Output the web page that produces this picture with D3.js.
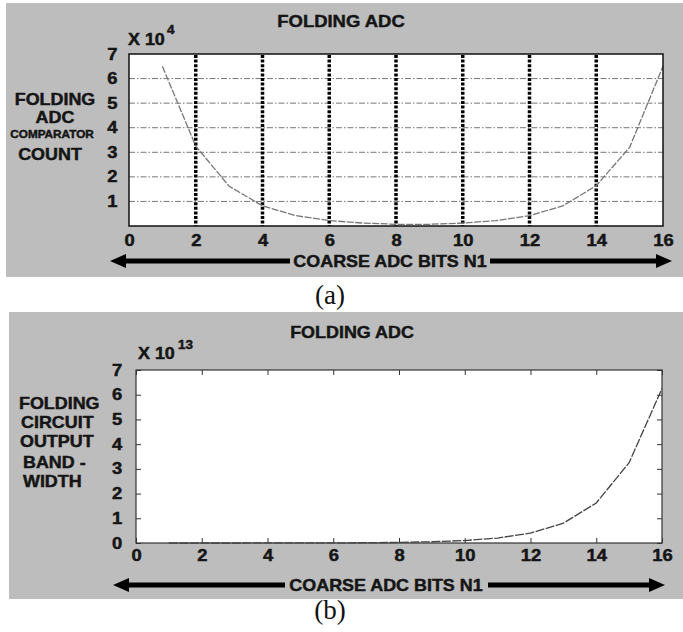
<!DOCTYPE html>
<html>
<head>
<meta charset="utf-8">
<script src="https://cdn.jsdelivr.net/npm/d3@7"></script>
<style>
  body { margin: 0; background: #fff; }
  svg { display: block; }
  .bold { font-family: "Liberation Sans", Arial, sans-serif; font-weight: bold; fill: #151515; stroke: #151515; stroke-width: 0.45; }
</style>
</head>
<body>
<div id="chart"></div>
<script>
// Data
var coarseBits = [1, 2, 3, 4, 5, 6, 7, 8, 9, 10, 11, 12, 13, 14, 15, 16];
// (a) comparator count, x 10^4
var comparatorCount = [6.5, 3.25, 1.62, 0.82, 0.42, 0.22, 0.12, 0.07, 0.07, 0.12, 0.22, 0.42, 0.82, 1.64, 3.2, 6.5];
// (b) folding circuit output bandwidth, x 10^13
var outputBandwidth = [0.0002, 0.0004, 0.0008, 0.0015, 0.003, 0.006, 0.012, 0.025, 0.05, 0.1, 0.2, 0.4, 0.8, 1.62, 3.25, 6.25];
var xTicks = [0, 2, 4, 6, 8, 10, 12, 14, 16];
var yTicksA = [1, 2, 3, 4, 5, 6, 7];
var yTicksB = [0, 1, 2, 3, 4, 5, 6, 7];
var vGridA = [2, 4, 6, 8, 10, 12, 14];
var hGridA = [1, 2, 3, 4, 5, 6];

var svgWidth = 683;
var svgHeight = 632;
var stretch = 1.12; // the scanned text is a bit wider than normal

var svg = d3.select("#chart")
  .append("svg")
  .attr("width", svgWidth)
  .attr("height", svgHeight);

// helper for stretched bold labels
function label(g, x, y, str, size, anchor) {
  return g.append("text")
    .attr("class", "bold")
    .attr("transform", `translate(${x},${y}) scale(${stretch},1)`)
    .attr("text-anchor", anchor || "middle")
    .attr("font-size", size)
    .text(str);
}

// double headed axis arrow, broken where the label sits
function arrow(g, x0, x1, gap0, gap1, y) {
  g.append("line").attr("x1", x0 + 12).attr("x2", gap0).attr("y1", y).attr("y2", y)
    .attr("stroke", "#000").attr("stroke-width", 5);
  g.append("line").attr("x1", gap1).attr("x2", x1 - 12).attr("y1", y).attr("y2", y)
    .attr("stroke", "#000").attr("stroke-width", 5);
  g.append("path").attr("d", `M${x0},${y} L${x0 + 16},${y - 7} L${x0 + 16},${y + 7} Z`).attr("fill", "#000");
  g.append("path").attr("d", `M${x1},${y} L${x1 - 16},${y - 7} L${x1 - 16},${y + 7} Z`).attr("fill", "#000");
}

function styleTicks(ax) {
  ax.selectAll("text").attr("class", "bold").attr("font-size", 16)
    .attr("transform", `scale(1.15,1)`);
}

// ---------------- panel (a) ----------------
var gA = svg.append("g");
gA.append("rect").attr("x", 6).attr("y", 3).attr("width", 677).attr("height", 274).attr("fill", "#bdbdbd");

var xA = d3.scaleLinear().domain([0, 16]).range([129, 663]);
var yA = d3.scaleLinear().domain([0, 7]).range([226, 54]);

gA.append("rect")
  .attr("x", xA(0)).attr("y", yA(7))
  .attr("width", xA(16) - xA(0)).attr("height", yA(0) - yA(7))
  .attr("fill", "#fff");

// horizontal dash-dot grid
gA.selectAll(".hgrid").data(hGridA).enter().append("line")
  .attr("x1", xA(0)).attr("x2", xA(16))
  .attr("y1", d => yA(d)).attr("y2", d => yA(d))
  .attr("stroke", "#777").attr("stroke-width", 1)
  .attr("stroke-dasharray", "6,2,1.5,2");

// thick dotted vertical grid
gA.selectAll(".vgrid").data(vGridA).enter().append("line")
  .attr("x1", d => xA(d)).attr("x2", d => xA(d))
  .attr("y1", yA(7) + 1).attr("y2", yA(0))
  .attr("stroke", "#000").attr("stroke-width", 3.5)
  .attr("stroke-dasharray", "3,1.6");

// curve
var lineA = d3.line().x((d, i) => xA(coarseBits[i])).y(d => yA(d));
gA.append("path")
  .datum(comparatorCount)
  .attr("d", lineA)
  .attr("fill", "none")
  .attr("stroke", "#777").attr("stroke-width", 1.3)
  .attr("stroke-dasharray", "7,1.5");

gA.append("rect")
  .attr("x", xA(0)).attr("y", yA(7))
  .attr("width", xA(16) - xA(0)).attr("height", yA(0) - yA(7))
  .attr("fill", "none").attr("stroke", "#111").attr("stroke-width", 1.5);

// axes
var axA = gA.append("g")
  .attr("transform", `translate(0,${yA(0)})`)
  .call(d3.axisBottom(xA).tickValues(xTicks).tickFormat(d3.format("d")).tickSize(0).tickPadding(9));
var ayA = gA.append("g")
  .attr("transform", `translate(${xA(0)},0)`)
  .call(d3.axisLeft(yA).tickValues(yTicksA).tickFormat(d3.format("d")).tickSize(0).tickPadding(10));
[axA, ayA].forEach(function(ax) {
  ax.select(".domain").remove();
  styleTicks(ax);
});
axA.selectAll("text").attr("dy", "0.71em");

label(gA, 341, 27, "FOLDING  ADC", 16.5);
label(gA, 128, 45, "X 10", 16, "start");
label(gA, 167, 34, "4", 12, "start");
label(gA, 55, 105, "FOLDING", 16);
label(gA, 55, 123, "ADC", 16);
label(gA, 52, 138, "COMPARATOR", 10.5);
label(gA, 50, 160, "COUNT", 16);

arrow(gA, 110, 672, 290, 490, 261);
label(gA, 390, 267, "COARSE ADC BITS N1", 16);

svg.append("text")
  .attr("x", 330).attr("y", 304)
  .attr("text-anchor", "middle")
  .attr("font-family", "Liberation Serif, serif")
  .attr("font-size", 27)
  .attr("fill", "#111")
  .text("(a)");

// ---------------- panel (b) ----------------
var gB = svg.append("g");
gB.append("rect").attr("x", 9).attr("y", 312).attr("width", 674).attr("height", 287).attr("fill", "#bdbdbd");

var xB = d3.scaleLinear().domain([0, 16]).range([136, 662]);
var yB = d3.scaleLinear().domain([0, 7]).range([543, 370]);

gB.append("rect")
  .attr("x", xB(0)).attr("y", yB(7))
  .attr("width", xB(16) - xB(0)).attr("height", yB(0) - yB(7))
  .attr("fill", "#fff").attr("stroke", "#333").attr("stroke-width", 1.2);

var axB = gB.append("g")
  .attr("transform", `translate(0,${yB(0)})`)
  .call(d3.axisBottom(xB).tickValues(xTicks).tickFormat(d3.format("d")).tickSize(-5).tickPadding(7));
var ayB = gB.append("g")
  .attr("transform", `translate(${xB(0)},0)`)
  .call(d3.axisLeft(yB).tickValues(yTicksB).tickFormat(d3.format("d")).tickSize(-5).tickPadding(12));
var atB = gB.append("g")
  .attr("transform", `translate(0,${yB(7)})`)
  .call(d3.axisTop(xB).tickValues(xTicks).tickSize(-5).tickFormat(""));
var arB = gB.append("g")
  .attr("transform", `translate(${xB(16)},0)`)
  .call(d3.axisRight(yB).tickValues(yTicksB).tickSize(-5).tickFormat(""));
[axB, ayB, atB, arB].forEach(function(ax) {
  ax.select(".domain").remove();
  ax.selectAll("line").attr("stroke", "#333");
});
[axB, ayB].forEach(styleTicks);
axB.selectAll("text").attr("dy", "0.71em");

var lineB = d3.line().x((d, i) => xB(coarseBits[i])).y(d => yB(d));
gB.append("path")
  .datum(outputBandwidth)
  .attr("d", lineB)
  .attr("fill", "none")
  .attr("stroke", "#444").attr("stroke-width", 1.3)
  .attr("stroke-dasharray", "9,1.5");

label(gB, 352, 338, "FOLDING ADC", 16);
label(gB, 138, 359, "X 10", 16, "start");
label(gB, 178, 349, "13", 12, "start");
label(gB, 19, 409, "FOLDING", 16, "start");
label(gB, 21, 428, "CIRCUIT", 16, "start");
label(gB, 20, 447, "OUTPUT", 16, "start");
label(gB, 23, 468, "BAND -", 16, "start");
label(gB, 23, 487, "WIDTH", 16, "start");

arrow(gB, 113, 665, 285, 488, 585);
label(gB, 386, 591, "COARSE ADC BITS N1", 16);

svg.append("text")
  .attr("x", 330).attr("y", 619)
  .attr("text-anchor", "middle")
  .attr("font-family", "Liberation Serif, serif")
  .attr("font-size", 27)
  .attr("fill", "#111")
  .text("(b)");
</script>
</body>
</html>
